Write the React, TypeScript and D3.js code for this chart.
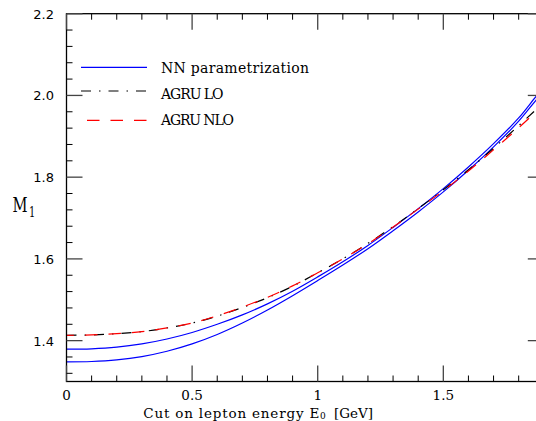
import React from "react";
import * as d3 from "d3";

const xs = [0, 0.1, 0.2, 0.3, 0.4, 0.5, 0.6, 0.7, 0.8, 0.9, 1.0, 1.1, 1.2, 1.3, 1.4, 1.5, 1.6, 1.7, 1.8, 1.87, 1.9];
const nnUpper = [1.379, 1.380, 1.384, 1.392, 1.404, 1.420, 1.440, 1.463, 1.490, 1.521, 1.556, 1.593, 1.633, 1.677, 1.723, 1.772, 1.825, 1.882, 1.945, 1.998, 2.018];
const nnLower = [1.348, 1.349, 1.353, 1.361, 1.374, 1.392, 1.415, 1.443, 1.475, 1.510, 1.547, 1.585, 1.625, 1.669, 1.715, 1.764, 1.817, 1.874, 1.937, 1.989, 2.009];
const agruLO = [1.413, 1.414, 1.417, 1.422, 1.431, 1.443, 1.460, 1.481, 1.505, 1.533, 1.566, 1.600, 1.638, 1.679, 1.723, 1.769, 1.818, 1.871, 1.926, 1.966, 1.984];
const agruNLO = [1.413, 1.414, 1.417, 1.422, 1.431, 1.443, 1.461, 1.482, 1.506, 1.534, 1.566, 1.600, 1.637, 1.678, 1.722, 1.767, 1.815, 1.867, 1.921, 1.961, 1.979];

const xMajor = [0, 0.5, 1, 1.5];
const xMinor = [0.1, 0.2, 0.3, 0.4, 0.6, 0.7, 0.8, 0.9, 1.1, 1.2, 1.3, 1.4, 1.6, 1.7, 1.8];
const xLabels = ["0", "0.5", "1", "1.5"];
const yMajor = [1.4, 1.6, 1.8, 2.0, 2.2];
const yMinor = [1.32, 1.36, 1.44, 1.48, 1.52, 1.56, 1.64, 1.68, 1.72, 1.76, 1.84, 1.88, 1.92, 1.96, 2.04, 2.08, 2.12, 2.16];
const yLabels = ["1.4", "1.6", "1.8", "2.0", "2.2"];
const legendLabels = ["NN parametrization", "AGRU LO", "AGRU NLO"];

export default function App() {
  const x = d3.scaleLinear().domain([0, 1.9]).range([66.5, 543.8]);
  const y = d3.scaleLinear().domain([1.3, 2.2]).range([381.5, 13.7]);
  const left = x(0), right = x(1.9), top = y(2.2), bottom = y(1.3);
  const mk = (vals: number[]) =>
    d3.line<number>().x((_, i) => x(xs[i])).y((v) => y(v)).curve(d3.curveCatmullRom.alpha(0.5))(vals) || "";
  const serif = "DejaVu Serif";
  const major = 16, minor = 6;
  return (
    <div style={{ position: "absolute", left: 0, top: 0 }}>
      <svg width={536} height={421} style={{ display: "block", background: "#fff" }}>
        <defs>
          <clipPath id="pa">
            <rect x={left} y={top} width={right - left} height={bottom - top} />
          </clipPath>
        </defs>
        <g clipPath="url(#pa)" fill="none">
          <path d={mk(nnUpper)} stroke="#0000ff" strokeWidth={1.2} />
          <path d={mk(nnLower)} stroke="#0000ff" strokeWidth={1.2} />
          <path d={mk(agruLO)} stroke="#000" strokeWidth={1.2} strokeDasharray="10 8 1.5 8" />
          <path d={mk(agruNLO)} stroke="#ff0000" strokeWidth={1.2} strokeDasharray="12.5 11" strokeDashoffset={5} />
        </g>
        <rect x={left} y={top} width={right - left} height={bottom - top} fill="none" stroke="#000" strokeWidth={1.3} />
        {xMajor.map((t) => (
          <g key={"xM" + t} stroke="#444" strokeWidth={1.3}>
            <line x1={x(t)} x2={x(t)} y1={bottom} y2={bottom - major} />
            <line x1={x(t)} x2={x(t)} y1={top} y2={top + major} />
          </g>
        ))}
        {xMinor.map((t) => (
          <g key={"xm" + t} stroke="#000" strokeWidth={1}>
            <line x1={x(t)} x2={x(t)} y1={bottom} y2={bottom - minor} />
            <line x1={x(t)} x2={x(t)} y1={top} y2={top + minor} />
          </g>
        ))}
        {yMajor.map((t) => (
          <g key={"yM" + t} stroke="#444" strokeWidth={1.3}>
            <line x1={left} x2={left + major} y1={y(t)} y2={y(t)} />
            <line x1={right} x2={right - major} y1={y(t)} y2={y(t)} />
          </g>
        ))}
        {yMinor.map((t) => (
          <g key={"ym" + t} stroke="#000" strokeWidth={1}>
            <line x1={left} x2={left + minor} y1={y(t)} y2={y(t)} />
            <line x1={right} x2={right - minor} y1={y(t)} y2={y(t)} />
          </g>
        ))}
        {xMajor.map((t, i) => (
          <text key={"xl" + t} x={x(t)} y={399.5} textAnchor="middle" fontFamily={serif} fontSize={13.5} fill="#000">
            {xLabels[i]}
          </text>
        ))}
        {yMajor.map((t, i) => (
          <text key={"yl" + t} x={54} y={y(t) + 5} textAnchor="end" fontFamily="DejaVu Sans" fontSize={13} fill="#000">
            {yLabels[i]}
          </text>
        ))}
        <text x={143.3} y={417.5} fontFamily={serif} fontSize={13.5} textLength={176} lengthAdjust="spacing" fill="#000">
          Cut on lepton energy E
        </text>
        <text x={320} y={419} fontFamily={serif} fontSize={9} fill="#000">0</text>
        <text x={334} y={417.5} fontFamily={serif} fontSize={13.5} textLength={39} lengthAdjust="spacing" fill="#000">
          [GeV]
        </text>
        <text transform="translate(12.5,212) scale(0.7,1)" fontFamily={serif} fontSize={21} fill="#000">
          M<tspan dx={2} dy={4.5} fontSize={14}>1</tspan>
        </text>
        <line x1={81} x2={147} y1={67.3} y2={67.3} stroke="#0000ff" strokeWidth={1.2} />
        <line x1={81} x2={147} y1={91} y2={91} stroke="#000" strokeWidth={1.2} strokeDasharray="10 8 1.5 8" />
        <line x1={81} x2={147} y1={120.3} y2={120.3} stroke="#ff0000" strokeWidth={1.2} strokeDasharray="12.5 11" strokeDashoffset={17.5} />
        <text x={161} y={73} fontFamily={serif} fontSize={14} textLength={148} lengthAdjust="spacing" fill="#000">{legendLabels[0]}</text>
        <text x={161} y={98.5} fontFamily={serif} fontSize={14} textLength={62.5} lengthAdjust="spacing" fill="#000">{legendLabels[1]}</text>
        <text x={161} y={125} fontFamily={serif} fontSize={14} textLength={73} lengthAdjust="spacing" fill="#000">{legendLabels[2]}</text>
      </svg>
    </div>
  );
}
